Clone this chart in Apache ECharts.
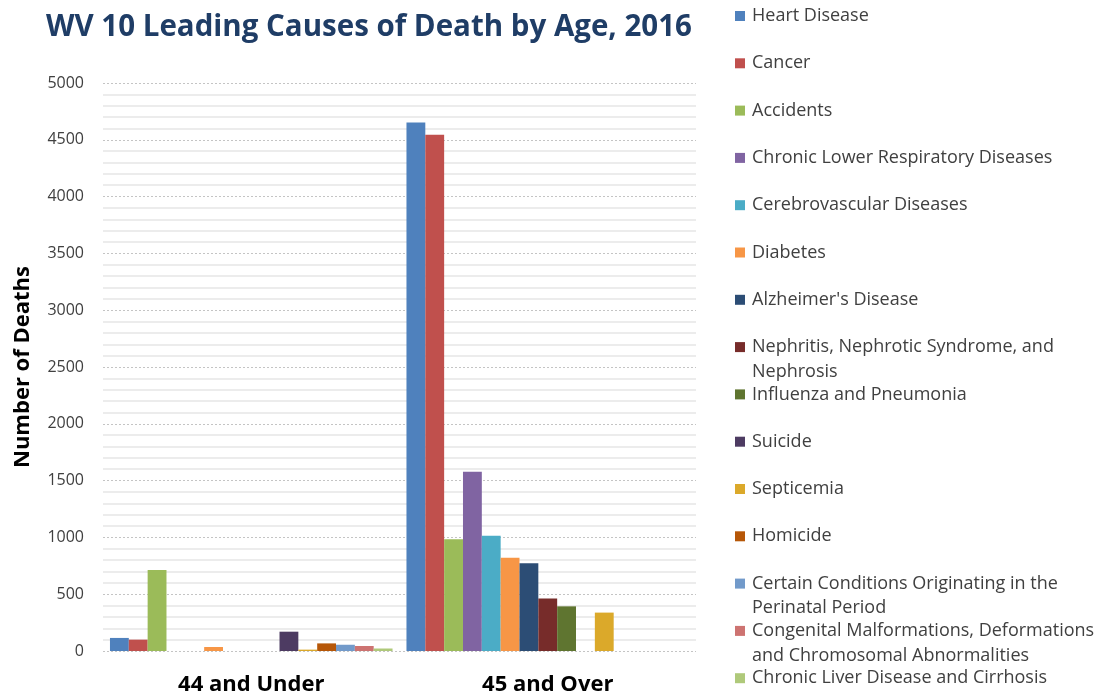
<!DOCTYPE html>
<html>
<head>
<meta charset="utf-8">
<script src="https://cdn.jsdelivr.net/npm/echarts@6/dist/echarts.min.js"></script>
<style>html,body{margin:0;padding:0;background:#fff}#c{width:1104px;height:700px}</style>
</head>
<body>
<div id="c"></div>
<script>
const categories = ['44 and Under', '45 and Over'];
const causes = [
  'Heart Disease', 'Cancer', 'Accidents', 'Chronic Lower Respiratory Diseases',
  'Cerebrovascular Diseases', 'Diabetes', "Alzheimer's Disease",
  'Nephritis, Nephrotic Syndrome, and Nephrosis', 'Influenza and Pneumonia',
  'Suicide', 'Septicemia', 'Homicide',
  'Certain Conditions Originating in the Perinatal Period',
  'Congenital Malformations, Deformations and Chromosomal Abnormalities',
  'Chronic Liver Disease and Cirrhosis'
];
// legend line breaks (text only)
const legendLines = {
  'Nephritis, Nephrotic Syndrome, and Nephrosis': ['Nephritis, Nephrotic Syndrome, and', 'Nephrosis'],
  'Certain Conditions Originating in the Perinatal Period': ['Certain Conditions Originating in the', 'Perinatal Period'],
  'Congenital Malformations, Deformations and Chromosomal Abnormalities': ['Congenital Malformations, Deformations', 'and Chromosomal Abnormalities']
};
const deaths44AndUnder = [115, 100, 712, null, null, 35, null, null, null, 170, 12, 67, 55, 44, 22];
const deaths45AndOver = [4652, 4545, 983, 1577, 1015, 820, 773, 463, 393, null, 338, null, null, null, null];
const yTicks = [0, 500, 1000, 1500, 2000, 2500, 3000, 3500, 4000, 4500, 5000];

const colors = ['#4F81BD', '#C0504D', '#9BBB59', '#8064A2', '#4BACC6', '#F79646', '#2C4D75',
  '#772C2A', '#5F7530', '#4D3B62', '#DBA92A', '#B65708', '#729ACA', '#CD7371', '#AFC97A'];

const FONT = 'Open Sans';
const legendTop0 = 16, legendStep = 47.3;
const LEG_FS = 18;

const legends = causes.map((name, i) => ({
  show: true,
  data: [name],
  orient: 'vertical',
  left: 735,
  top: legendTop0 + i * legendStep - 10,
  padding: 0,
  itemWidth: 10,
  itemHeight: 10,
  itemGap: 0,
  icon: 'rect',
  selectedMode: false,
  textStyle: { fontFamily: FONT, fontSize: LEG_FS, color: '#404040', lineHeight: 20, padding: [0, 0, 0, 2] },
  formatter: n => (legendLines[n] ? legendLines[n][0] : n)
}));

const graphics = [];
causes.forEach((name, i) => {
  if (legendLines[name]) {
    graphics.push({
      type: 'text',
      left: 752,
      top: legendTop0 + i * legendStep + 24.5 - 10,
      style: { text: legendLines[name][1], font: LEG_FS + 'px "Open Sans"', fill: '#404040', lineHeight: 20 }
    });
  }
});

const series = causes.map((name, i) => ({
  name,
  type: 'bar',
  data: [deaths44AndUnder[i], deaths45AndOver[i]],
  barGap: 0,
  barCategoryGap: '4.7%',
  itemStyle: { color: colors[i] },
  emphasis: { disabled: true }
}));

const chart = echarts.init(document.getElementById('c'), null, { renderer: 'canvas' });
chart.setOption({
  animation: false,
  color: colors,
  title: {
    text: 'WV 10 Leading Causes of Death by Age, 2016',
    left: 41, top: 8,
    textStyle: { fontFamily: FONT, fontSize: 29.5, fontWeight: 'bold', color: '#1F3D66' }
  },
  legend: legends,
  graphic: graphics,
  grid: { left: 103, right: 408, top: 83, bottom: 49, containLabel: false },
  xAxis: {
    type: 'category',
    data: categories,
    axisLine: { show: false },
    axisTick: { show: false },
    axisLabel: { fontFamily: FONT, fontSize: 22, fontWeight: 'bold', color: '#000', margin: 23 }
  },
  yAxis: {
    type: 'value',
    min: 0, max: 5000, interval: 500,
    name: 'Number of Deaths',
    nameLocation: 'middle',
    nameGap: 69,
    nameRotate: 90,
    nameTextStyle: { fontFamily: FONT, fontSize: 22, fontWeight: 'bold', color: '#000' },
    axisLine: { show: false },
    axisTick: { show: false },
    axisLabel: {
      fontFamily: FONT, fontSize: 16, color: '#404040', margin: 19,
      formatter: v => (yTicks.includes(v) ? String(v) : '')
    },
    splitLine: { show: true, lineStyle: { color: '#C4C4C4', width: 1, type: [2, 2] } },
    minorTick: { show: false, splitNumber: 5 },
    minorSplitLine: { show: true, lineStyle: { color: '#E6E6E6', width: 1.5 } }
  },
  series
});
</script>
</body>
</html>
